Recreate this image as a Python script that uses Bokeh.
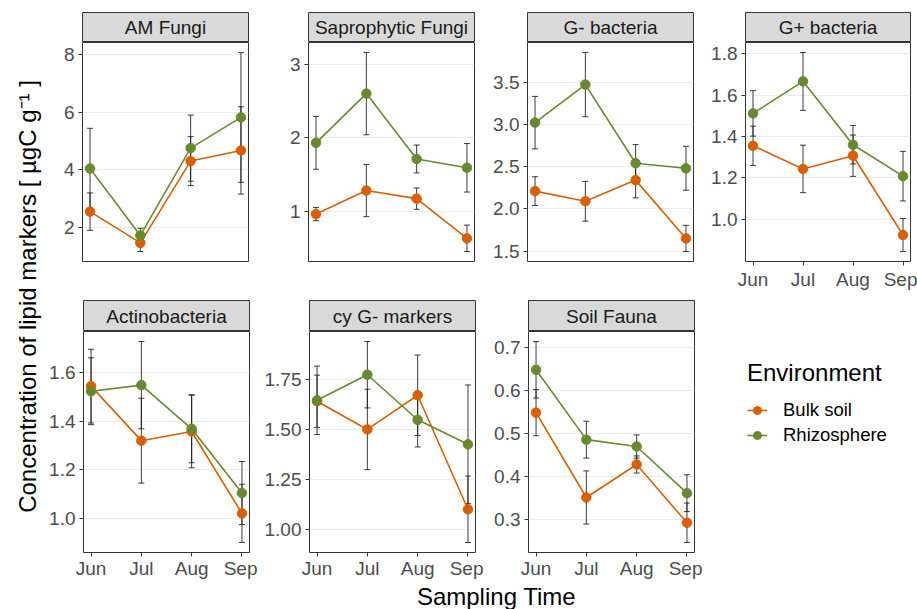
from bokeh.plotting import figure
from bokeh.layouts import row, column
from bokeh.models import (Range1d, FixedTicker, ColumnDataSource, Whisker, TeeHead,
                          Legend, LegendItem)
from bokeh.core.properties import value
from bokeh.embed import file_html
from bokeh.resources import INLINE

# ---------------- data ----------------
months = ["Jun", "Jul", "Aug", "Sep"]
environments = ["Bulk soil", "Rhizosphere"]
panel_names = ["AM Fungi", "Saprophytic Fungi", "G- bacteria", "G+ bacteria",
               "Actinobacteria", "cy G- markers", "Soil Fauna"]

am_bulk = [2.54, 1.45, 4.30, 4.67]
am_bulk_se = [0.65, 0.30, 0.85, 1.52]
am_rhizo = [4.04, 1.71, 4.75, 5.82]
am_rhizo_se = [1.40, 0.25, 1.15, 2.26]
am_ticks = ["2", "4", "6", "8"]

sap_bulk = [0.96, 1.28, 1.17, 0.63]
sap_bulk_se = [0.09, 0.355, 0.145, 0.18]
sap_rhizo = [1.93, 2.60, 1.71, 1.59]
sap_rhizo_se = [0.36, 0.56, 0.19, 0.33]
sap_ticks = ["1", "2", "3"]

gneg_bulk = [2.21, 2.09, 2.34, 1.65]
gneg_bulk_se = [0.17, 0.235, 0.21, 0.155]
gneg_rhizo = [3.02, 3.47, 2.54, 2.48]
gneg_rhizo_se = [0.31, 0.38, 0.22, 0.26]
gneg_ticks = ["1.5", "2.0", "2.5", "3.0", "3.5"]

gpos_bulk = [1.355, 1.243, 1.307, 0.923]
gpos_bulk_se = [0.095, 0.115, 0.10, 0.08]
gpos_rhizo = [1.512, 1.667, 1.36, 1.208]
gpos_rhizo_se = [0.11, 0.14, 0.093, 0.12]
gpos_ticks = ["1.0", "1.2", "1.4", "1.6", "1.8"]

act_bulk = [1.545, 1.32, 1.358, 1.02]
act_bulk_se = [0.152, 0.175, 0.15, 0.12]
act_rhizo = [1.524, 1.549, 1.369, 1.104]
act_rhizo_se = [0.138, 0.18, 0.14, 0.13]
act_ticks = ["1.0", "1.2", "1.4", "1.6"]

cy_bulk = [1.64, 1.50, 1.67, 1.103]
cy_bulk_se = [0.13, 0.20, 0.20, 0.165]
cy_rhizo = [1.645, 1.772, 1.548, 1.426]
cy_rhizo_se = [0.17, 0.165, 0.135, 0.295]
cy_ticks = ["1.00", "1.25", "1.50", "1.75"]

fauna_bulk = [0.549, 0.351, 0.428, 0.292]
fauna_bulk_se = [0.054, 0.062, 0.02, 0.046]
fauna_rhizo = [0.649, 0.486, 0.47, 0.361]
fauna_rhizo_se = [0.066, 0.043, 0.027, 0.043]
fauna_ticks = ["0.3", "0.4", "0.5", "0.6", "0.7"]

panel_data = [
    (am_bulk, am_bulk_se, am_rhizo, am_rhizo_se, am_ticks),
    (sap_bulk, sap_bulk_se, sap_rhizo, sap_rhizo_se, sap_ticks),
    (gneg_bulk, gneg_bulk_se, gneg_rhizo, gneg_rhizo_se, gneg_ticks),
    (gpos_bulk, gpos_bulk_se, gpos_rhizo, gpos_rhizo_se, gpos_ticks),
    (act_bulk, act_bulk_se, act_rhizo, act_rhizo_se, act_ticks),
    (cy_bulk, cy_bulk_se, cy_rhizo, cy_rhizo_se, cy_ticks),
    (fauna_bulk, fauna_bulk_se, fauna_rhizo, fauna_rhizo_se, fauna_ticks),
]

# ---------------- style / layout ----------------
FONT = "Liberation Sans"
ORANGE = "#D95F02"
GREEN = "#688A2F"
COLORS = [ORANGE, GREEN]
TICK_COLOR = "#4D4D4D"
BORDER = "#333333"
ERR = "#1A1A1A"

YT_W = 46                        # width of the y-title strip
FW = [166, 166, 166, 165]        # frame widths per column
ML = [36, 52, 45, 44]            # left borders per column
MR = [8, 8, 8, 7]                # right borders per column
SH = [30, 31]                    # strip heights per row
ST = [12, 0]                     # strip top border per row
FH = [219, 221]                  # panel frame heights per row
MB = [39, 28]                    # panel bottom borders per row
XSTAND = [3, 1]                  # x tick label standoff per row
XT_H = 29                        # height of the x-title strip


def make_strip(name, col, r):
    s = figure(frame_width=FW[col], frame_height=SH[r],
               min_border_left=ML[col], min_border_right=MR[col],
               min_border_top=ST[r], min_border_bottom=0,
               x_range=Range1d(0, 1), y_range=Range1d(0, 1),
               x_axis_type=None, y_axis_type=None,
               toolbar_location=None, output_backend="svg")
    s.grid.visible = False
    s.background_fill_color = "#D9D9D9"
    s.border_fill_color = "white"
    s.outline_line_color = BORDER
    s.outline_line_width = 1
    s.text(x=[0.5], y=[0.5], text=[name], text_align="center",
           text_baseline="middle", text_font=value(FONT),
           text_font_size="19px", text_color="#1A1A1A")
    return s


def make_panel(idx, col, r, show_x):
    bulk, bulk_se, rhizo, rhizo_se, ticks = panel_data[idx]
    means = [bulk, rhizo]
    ses = [bulk_se, rhizo_se]
    lows = [m - s for mm, ss in zip(means, ses) for m, s in zip(mm, ss)]
    highs = [m + s for mm, ss in zip(means, ses) for m, s in zip(mm, ss)]
    lo, hi = min(lows), max(highs)
    pad = 0.05 * (hi - lo)
    xs = list(range(1, len(months) + 1))
    xpad = 0.05 * (xs[-1] - xs[0])
    p = figure(frame_width=FW[col], frame_height=FH[r],
               min_border_left=ML[col], min_border_right=MR[col],
               min_border_top=0, min_border_bottom=MB[r],
               x_range=Range1d(xs[0] - xpad, xs[-1] + xpad),
               y_range=Range1d(lo - pad, hi + pad),
               toolbar_location=None, output_backend="svg")
    p.background_fill_color = "white"
    p.border_fill_color = "white"
    p.outline_line_color = BORDER
    p.outline_line_width = 1
    p.xgrid.visible = False
    p.ygrid.grid_line_color = "#EBEBEB"
    p.ygrid.grid_line_width = 1
    p.ygrid.ticker = FixedTicker(ticks=[float(t) for t in ticks])

    for k in range(2):
        m = means[k]
        src = ColumnDataSource(dict(x=xs, y=m))
        p.line("x", "y", source=src, line_color=COLORS[k], line_width=1.6)
        p.scatter("x", "y", source=src, size=9.5, fill_color=COLORS[k],
                  line_color=COLORS[k])
    for k in range(2):
        m, s = means[k], ses[k]
        src = ColumnDataSource(dict(x=xs,
                                    upper=[a + b for a, b in zip(m, s)],
                                    lower=[a - b for a, b in zip(m, s)]))
        w = Whisker(source=src, base="x", upper="upper", lower="lower",
                    line_color=ERR, line_width=1, line_alpha=0.85,
                    upper_head=TeeHead(size=6, line_color=ERR, line_width=1, line_alpha=0.85),
                    lower_head=TeeHead(size=6, line_color=ERR, line_width=1, line_alpha=0.85))
        p.add_layout(w)

    for ax in p.axis:
        ax.axis_line_color = None
        ax.major_tick_line_color = BORDER
        ax.major_tick_out = 4
        ax.major_tick_in = 0
        ax.minor_tick_line_color = None
        ax.major_label_text_font = FONT
        ax.major_label_text_font_size = "19px"
        ax.major_label_text_color = TICK_COLOR
        ax.major_label_standoff = 4

    p.yaxis.ticker = FixedTicker(ticks=[float(t) for t in ticks])
    p.yaxis.major_label_overrides = {float(t): t for t in ticks}
    p.xaxis.ticker = FixedTicker(ticks=xs)
    p.xaxis.major_label_overrides = {x: mth for x, mth in zip(xs, months)}
    p.xaxis.major_label_standoff = XSTAND[r]
    if not show_x:
        p.xaxis.visible = False
    return p


def cell(idx, col, r, show_x):
    return column(make_strip(panel_names[idx], col, r),
                  make_panel(idx, col, r, show_x), spacing=0)


top = row(cell(0, 0, 0, False), cell(1, 1, 0, False), cell(2, 2, 0, False),
          cell(3, 3, 0, True), spacing=0)

# legend cell
LG_W = ML[3] + FW[3] + MR[3]
LG_H = SH[1] + FH[1] + MB[1]
lg = figure(frame_width=LG_W, frame_height=LG_H, min_border=0,
            x_range=Range1d(0, LG_W), y_range=Range1d(0, LG_H),
            x_axis_type=None, y_axis_type=None,
            toolbar_location=None, output_backend="svg")
lg.grid.visible = False
lg.outline_line_color = None
items = []
for k, env in enumerate(environments):
    # dummy renderers placed outside the visible range: only their legend glyphs show
    rl = lg.line(x=[-50, -40], y=[-50, -50], line_color=COLORS[k], line_width=1.6)
    rs = lg.scatter(x=[-50], y=[-50], size=9.5, fill_color=COLORS[k], line_color=COLORS[k])
    items.append(LegendItem(label=env, renderers=[rl, rs]))
legend = Legend(items=items, title="Environment", location=(45, 134),
                title_text_font=FONT, title_text_font_size="24px",
                title_text_color="black", title_text_font_style="normal",
                title_standoff=12,
                label_text_font=FONT, label_text_font_size="18.5px",
                label_text_color="black", label_standoff=16,
                glyph_width=20, glyph_height=20, spacing=3,
                padding=0, margin=0, border_line_color=None,
                background_fill_alpha=0)
lg.add_layout(legend)

bottom = row(cell(4, 0, 1, True), cell(5, 1, 1, True), cell(6, 2, 1, True), lg,
             spacing=0)

# x axis title, centred over the panel area
GRID_W = sum(ML) + sum(FW) + sum(MR)
xt = figure(frame_width=GRID_W, frame_height=XT_H, min_border=0,
            x_range=Range1d(0, GRID_W), y_range=Range1d(0, XT_H),
            x_axis_type=None, y_axis_type=None,
            toolbar_location=None, output_backend="svg")
xt.grid.visible = False
xt.outline_line_color = None
xt.text(x=[(ML[0] + GRID_W - MR[3]) / 2], y=[14.5], text=["Sampling Time"],
        text_align="center", text_baseline="middle", text_font=value(FONT),
        text_font_size="24px", text_color="black")

# y axis title
TOTAL_H = ST[0] + SH[0] + FH[0] + MB[0] + SH[1] + FH[1] + MB[1] + XT_H
yt = figure(frame_width=YT_W, frame_height=TOTAL_H, min_border=0,
            x_range=Range1d(0, YT_W), y_range=Range1d(TOTAL_H, 0),
            x_axis_type=None, y_axis_type=None,
            toolbar_location=None, output_backend="svg")
yt.grid.visible = False
yt.outline_line_color = None
yt.text(x=[27], y=[296], text=["Concentration of lipid markers [ µgC g\u207b\u00b9 ]"],
        angle=1.5707963, text_align="center", text_baseline="middle",
        text_font=value(FONT), text_font_size="24px", text_color="black")

layout = row(yt, column(top, bottom, xt, spacing=0), spacing=0)

open("out.html", "w").write(file_html(layout, INLINE))
